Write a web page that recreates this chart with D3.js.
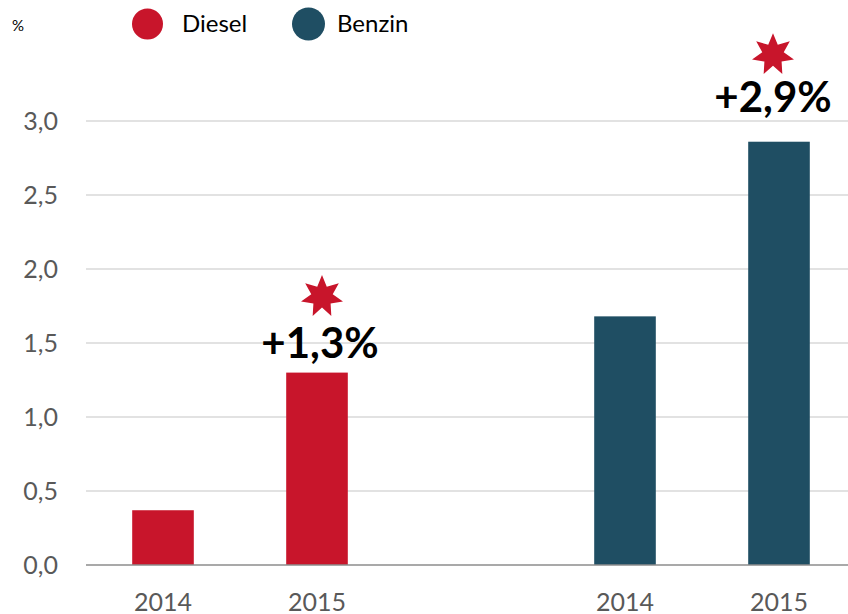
<!DOCTYPE html>
<html>
<head>
<meta charset="utf-8">
<script src="https://cdn.jsdelivr.net/npm/d3@7"></script>
<style>
  html, body { margin: 0; padding: 0; background: #fff; }
  svg { display: block; }
</style>
</head>
<body>
<div id="chart"></div>
<script>
// --- DATA ---
const slots = ["Diesel 2014", "Diesel 2015", "gap", "Benzin 2014", "Benzin 2015"];
const yearLabels = ["2014", "2015", "", "2014", "2015"];
const fuels = ["Diesel", "Diesel", null, "Benzin", "Benzin"];
const values = [0.37, 1.30, null, 1.68, 2.86];
const yTicks = [0, 0.5, 1.0, 1.5, 2.0, 2.5, 3.0];
const seriesNames = ["Diesel", "Benzin"];
const changeSlots = ["Diesel 2015", "Benzin 2015"];
const changeTexts = ["+1,3%", "+2,9%"];

// --- CONFIG ---
const WIDTH = 848, HEIGHT = 614;
const FONT = "Lato, 'Open Sans', sans-serif";
const COLORS = { Diesel: "#C8152B", Benzin: "#1F4E63" };
// hand placement of the annotations, relative to the top centre of their bar
const ANN_POS = [
  { textDx: 3, textDy: -15, starDx: 5, starDy: -76 },
  { textDx: -6, textDy: -30, starDx: -6, starDy: -87 }
];
const LEGEND_CIRCLE_X = [147.5, 308.5];
const LEGEND_TEXT_X = [182, 337];

const svg = d3.select("#chart").append("svg")
  .attr("width", WIDTH)
  .attr("height", HEIGHT)
  .style("font-family", FONT);

const x = d3.scaleBand()
  .domain(slots)
  .range([86, 856])
  .paddingInner(0.6)
  .paddingOuter(0.3);

const y = d3.scaleLinear()
  .domain([0, 3])
  .range([565, 121]);

// gridlines
svg.append("g")
  .selectAll("line")
  .data(yTicks.filter(d => d > 0))
  .join("line")
  .attr("x1", 86)
  .attr("x2", WIDTH)
  .attr("y1", d => y(d))
  .attr("y2", d => y(d))
  .attr("stroke", "#d9d9d9")
  .attr("stroke-width", 1.5);

// y axis labels
const yAxis = d3.axisLeft(y)
  .tickValues(yTicks)
  .tickFormat(d => d3.format(".1f")(d).replace(".", ","))
  .tickSize(0)
  .tickPadding(0);

svg.append("g")
  .attr("transform", "translate(58,0)")
  .call(yAxis)
  .call(g => g.select(".domain").remove())
  .selectAll("text")
  .attr("font-family", FONT)
  .attr("font-size", "25px")
  .attr("fill", "#595959");

// bars
const rows = slots.map((s, i) => ({ slot: s, fuel: fuels[i], value: values[i] }))
  .filter(d => d.value != null);

svg.append("g")
  .selectAll("rect")
  .data(rows)
  .join("rect")
  .attr("x", d => x(d.slot))
  .attr("width", x.bandwidth())
  .attr("y", d => y(d.value))
  .attr("height", d => y(0) - y(d.value))
  .attr("fill", d => COLORS[d.fuel]);

// baseline
svg.append("line")
  .attr("x1", 86)
  .attr("x2", WIDTH)
  .attr("y1", y(0))
  .attr("y2", y(0))
  .attr("stroke", "#8c8c8c")
  .attr("stroke-width", 1.5);

// x axis labels
const xAxis = d3.axisBottom(x)
  .tickFormat((d, i) => yearLabels[i])
  .tickSize(0)
  .tickPadding(28);

svg.append("g")
  .attr("transform", `translate(0,${y(0)})`)
  .call(xAxis)
  .call(g => g.select(".domain").remove())
  .selectAll("text")
  .attr("font-family", FONT)
  .attr("font-size", "25px")
  .attr("fill", "#595959");

// star shape (7 points)
const starPoints = d3.range(14).map(i => [i * Math.PI / 7, i % 2 === 0 ? 21.5 : 11]);
const star = d3.lineRadial().curve(d3.curveLinearClosed)(starPoints);

const ann = svg.append("g")
  .selectAll("g")
  .data(changeSlots)
  .join("g")
  .attr("transform", d => {
    const v = values[slots.indexOf(d)];
    return `translate(${x(d) + x.bandwidth() / 2},${y(v)})`;
  });

ann.append("path")
  .attr("d", star)
  .attr("transform", (d, i) => `translate(${ANN_POS[i].starDx},${ANN_POS[i].starDy})`)
  .attr("fill", "#C8152B");

ann.append("text")
  .attr("x", (d, i) => ANN_POS[i].textDx)
  .attr("y", (d, i) => ANN_POS[i].textDy)
  .attr("text-anchor", "middle")
  .attr("font-family", FONT)
  .attr("font-size", "42px")
  .attr("font-weight", "bold")
  .attr("fill", "#000")
  .text((d, i) => changeTexts[i]);

// legend
svg.append("text")
  .attr("x", 12)
  .attr("y", 31)
  .attr("font-family", FONT)
  .attr("font-size", "15px")
  .attr("fill", "#000")
  .text("%");

const legend = svg.append("g")
  .selectAll("g")
  .data(seriesNames)
  .join("g");

legend.append("circle")
  .attr("cx", (d, i) => LEGEND_CIRCLE_X[i])
  .attr("cy", 24)
  .attr("r", (d, i) => i === 0 ? 15.5 : 16.5)
  .attr("fill", d => COLORS[d]);

legend.append("text")
  .attr("x", (d, i) => LEGEND_TEXT_X[i])
  .attr("y", 32)
  .attr("font-family", FONT)
  .attr("font-size", "24px")
  .attr("fill", "#000")
  .text(d => d);
</script>
</body>
</html>
